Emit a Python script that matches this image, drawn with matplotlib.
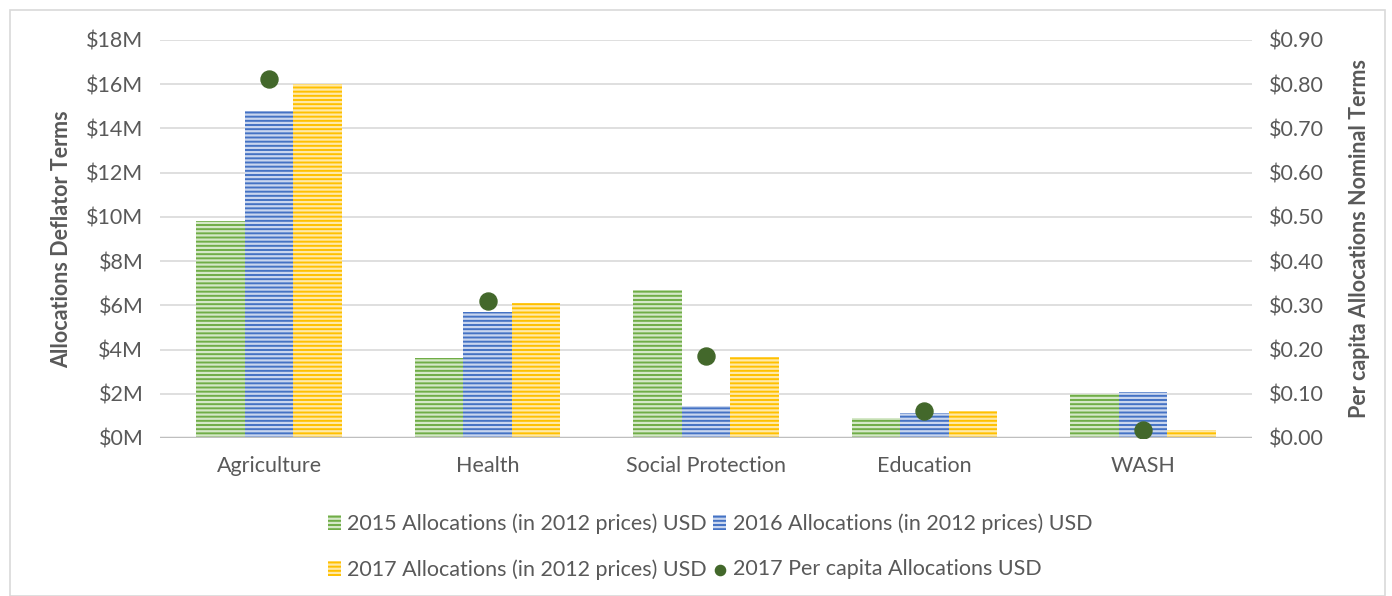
import numpy as np
import matplotlib.pyplot as plt
from matplotlib.patches import Rectangle

plt.rcParams['font.family'] = ['Lato', 'DejaVu Sans']
plt.rcParams['hatch.linewidth'] = 1.6

categories = ["Agriculture", "Health", "Social Protection", "Education", "WASH"]
alloc_2015 = [9.8, 3.6, 6.7, 0.9, 2.0]
alloc_2016 = [14.8, 5.7, 1.45, 1.13, 2.08]
alloc_2017 = [16.0, 6.1, 3.66, 1.22, 0.36]
percap_2017 = [0.812, 0.31, 0.186, 0.061, 0.018]

left_ticks = [0, 2, 4, 6, 8, 10, 12, 14, 16, 18]
right_ticks = [0, 0.1, 0.2, 0.3, 0.4, 0.5, 0.6, 0.7, 0.8, 0.9]

txt = "#595959"
fs = 15.5
fig = plt.figure(figsize=(13.92, 5.96), dpi=100)
ax = fig.add_axes([160/1392, 1 - 438/596, (1252-160)/1392, (438-40)/596])
ax2 = ax.twinx()

x = np.arange(len(categories))
w = 0.222
series = [
    (alloc_2015, "#70ad47", "#d5e8c8", "2015 Allocations (in 2012 prices) USD"),
    (alloc_2016, "#4472c4", "#c9d6ee", "2016 Allocations (in 2012 prices) USD"),
    (alloc_2017, "#ffc000", "#ffe9a8", "2017 Allocations (in 2012 prices) USD"),
]
bars = []
for i, (vals, col, light, lab) in enumerate(series):
    b = ax.bar(x + (i - 1) * w, vals, w, color=col, edgecolor=light,
               linewidth=0, hatch="----", label=lab, zorder=2)
    bars.append(b)

dots = ax2.scatter(x, percap_2017, s=150, color="#43682b", zorder=5,
                   label="2017 Per capita Allocations USD")

ax.set_xlim(-0.5, 4.5)
ax.set_ylim(0, 18)
ax2.set_ylim(0, 0.9)
ax.set_yticks(left_ticks)
ax.set_yticklabels(["$%dM" % t for t in left_ticks])
ax2.set_yticks(right_ticks)
ax2.set_yticklabels(["$%.2f" % t for t in right_ticks])
ax.set_xticks(x)
ax.set_xticklabels(categories)

ax.grid(axis="y", color="#d9d9d9", linewidth=1.2, zorder=0)
ax.set_axisbelow(True)
for a in (ax, ax2):
    for s in ["top", "left", "right", "bottom"]:
        a.spines[s].set_visible(False)
    a.tick_params(length=0, labelsize=fs, colors=txt, pad=12)
ax.axhline(0, color="#bfbfbf", linewidth=2.5, zorder=3)
ax.tick_params(axis="x", pad=13)

ax.set_ylabel("Allocations Deflator Terms", fontsize=fs, fontweight="bold",
              color=txt, labelpad=10)
ax2.set_ylabel("Per capita Allocations Nominal Terms", fontsize=fs,
               fontweight="bold", color=txt, labelpad=18)

handles = [bars[0], bars[2], bars[1], dots]
labels = [h.get_label() for h in handles]
fig.legend(handles, labels, ncol=2, loc="center", bbox_to_anchor=(0.51, 0.083),
           frameon=False, fontsize=fs, labelcolor=txt, handlelength=0.6,
           handleheight=0.7, handletextpad=0.3, columnspacing=0.3,
           labelspacing=1.2, markerscale=0.6)

fig.patches.append(Rectangle((10/1392, 0), 1375/1392, 586/596,
                             transform=fig.transFigure, fill=False,
                             edgecolor="#d9d9d9", linewidth=1.2))

fig.savefig("out.png", dpi=100)
